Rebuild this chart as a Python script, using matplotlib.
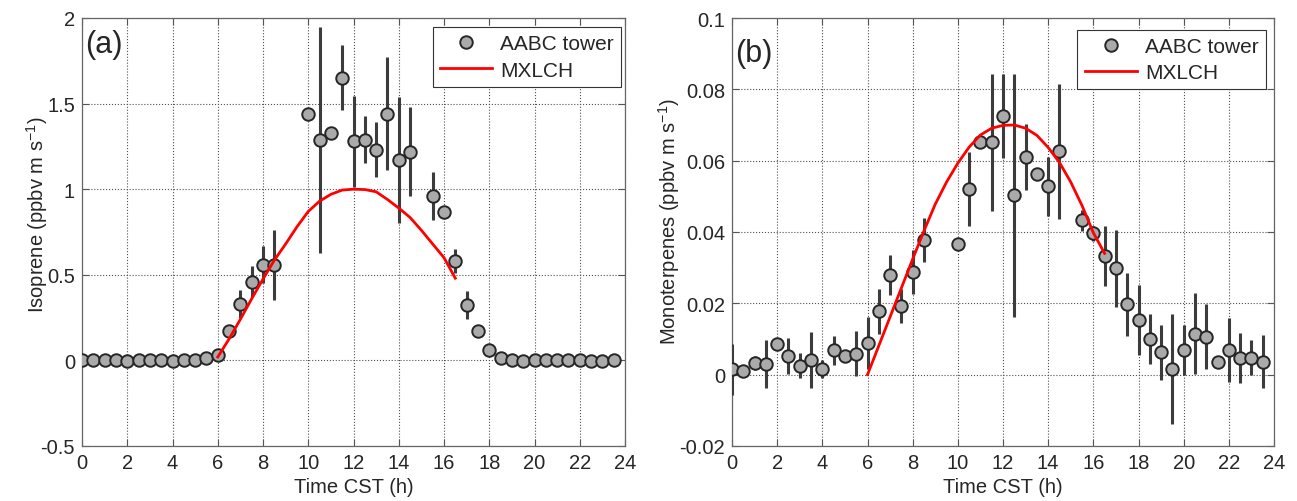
import numpy as np
import matplotlib
matplotlib.use('Agg')
import matplotlib.pyplot as plt
from matplotlib.lines import Line2D
from matplotlib.ticker import FuncFormatter

plt.rcParams['font.family'] = ['Liberation Sans', 'DejaVu Sans']
plt.rcParams['mathtext.fontset'] = 'custom'
plt.rcParams['mathtext.rm'] = 'Liberation Sans'

# half-hourly tower fluxes (NaN = no data)
hours = np.arange(0, 24, 0.5)

isoprene = [0.0, 0.0, 0.0, 0.0, -0.005, 0.0, 0.0, 0.0, -0.005, 0.0, 0.0, 0.015,
            0.03, 0.17, 0.33, 0.46, 0.56, 0.555, np.nan, np.nan, 1.44, 1.29, 1.33, 1.65,
            1.28, 1.29, 1.23, 1.44, 1.17, 1.22, np.nan, 0.96, 0.868, 0.578, 0.324, 0.171,
            0.062, 0.012, 0.0, -0.005, 0.0, 0.0, 0.0, 0.0, 0.0, -0.004, -0.004, 0.0]
isoprene_sd = [0, 0, 0, 0, 0, 0, 0, 0, 0, 0, 0, 0,
               0, 0.02, 0.08, 0.09, 0.11, 0.205, 0, 0, 0, 0.66, 0, 0.19,
               0.267, 0.135, 0.16, 0.33, 0.37, 0.26, 0, 0.14, 0, 0.07, 0.08, 0.02,
               0, 0, 0, 0, 0, 0, 0, 0, 0, 0, 0, 0]

monoterpenes = [0.0015, 0.0011, 0.0033, 0.0031, 0.0087, 0.0053, 0.0025, 0.0042, 0.0016, 0.0068, 0.0053, 0.0059,
                0.0089, 0.0178, 0.028, 0.0192, 0.0287, 0.0377, np.nan, np.nan, 0.0365, 0.0521, 0.0652, 0.0652,
                0.0726, 0.0503, 0.061, 0.0564, 0.0528, 0.0626, np.nan, 0.0433, 0.0396, 0.0334, 0.0298, 0.0197,
                0.0153, 0.0100, 0.0063, 0.0016, 0.0070, 0.0115, 0.0106, 0.0036, 0.0070, 0.0047, 0.0047, 0.0036]
monoterpenes_sd = [0.0071, 0, 0.002, 0.0067, 0, 0.005, 0.0035, 0.0078, 0.0024, 0.004, 0.0015, 0.0063,
                   0.0073, 0.0063, 0.0056, 0.0048, 0.0062, 0.0061, 0, 0, 0, 0.0104, 0, 0.0192,
                   0.0118, 0.034, 0.0093, 0, 0.0083, 0.019, 0, 0.003, 0.002, 0.0084, 0.0107, 0.0088,
                   0.0099, 0.007, 0.0077, 0.0155, 0.007, 0.0113, 0.0091, 0, 0.009, 0.007, 0.0049, 0.0074]

# mixed-layer chemistry model output
model_hours = np.arange(6, 16.75, 0.5)
isoprene_model = [0.02, 0.125, 0.24, 0.36, 0.475, 0.585, 0.68, 0.78, 0.87, 0.93, 0.97,
                  0.995, 1.0, 0.998, 0.985, 0.94, 0.89, 0.835, 0.76, 0.68, 0.60, 0.48]
monoterpenes_model = [0.0, 0.0081, 0.0162, 0.0243, 0.0324, 0.0403, 0.0478, 0.054, 0.0593, 0.0638, 0.0672,
                      0.0691, 0.0699, 0.07, 0.0691, 0.0671, 0.0637, 0.0595, 0.054, 0.0474, 0.0398, 0.034]

TXT = '#262626'
MFC = '#aaaaaa'
MEC = '#262626'
FS = 14.5

fig = plt.figure(figsize=(12.97, 5.02), dpi=100)
W, H = 1297.0, 502.0
ax_a = fig.add_axes([82 / W, 55 / H, 543 / W, 428 / H])
ax_b = fig.add_axes([732 / W, 55 / H, 542 / W, 428 / H])


def panel(ax, y, sd, model, ylim, yticks, ylabel, tag, tag_y, leg_anchor, ylab_xy):
    ax.errorbar(hours, y, yerr=sd, fmt='o', ms=9, mfc=MFC, mec=MEC, mew=1.4,
                ecolor='#3c3c3c', elinewidth=2.2, capsize=0, zorder=3)
    ax.plot(model_hours, model, color='red', lw=2.0, zorder=4)

    ax.set_xlim(0, 24)
    ax.set_ylim(*ylim)
    ax.set_xticks(np.arange(0, 25, 2))
    ax.set_yticks(yticks)
    ax.yaxis.set_major_formatter(FuncFormatter(lambda v, p: '%g' % round(v, 6)))
    ax.grid(True, ls=':', lw=0.8, color='#505050')
    ax.set_axisbelow(True)
    ax.tick_params(direction='in', top=True, right=True, length=5, width=0.8,
                   color='#555555', labelsize=FS, pad=5, labelcolor=TXT)
    for s in ax.spines.values():
        s.set_color('#666666')
        s.set_linewidth(0.9)

    ax.set_xlabel('Time CST (h)', fontsize=FS, color=TXT, va='center')
    ax.xaxis.set_label_coords(0.5, -0.094)
    ax.set_ylabel(ylabel, fontsize=FS, color=TXT, va='center')
    ax.yaxis.set_label_coords(*ylab_xy)

    ax.text(0.006, tag_y, tag, transform=ax.transAxes, fontsize=22,
            va='center', ha='left', color=TXT)

    handles = [Line2D([], [], ls='none', marker='o', ms=9, mfc=MFC, mec=MEC, mew=1.4),
               Line2D([], [], color='red', lw=2.0)]
    leg = ax.legend(handles, ['AABC tower', 'MXLCH'], loc='upper right',
                    bbox_to_anchor=leg_anchor, fancybox=False, framealpha=1,
                    edgecolor='#333333', fontsize=15, handlelength=2.5,
                    handletextpad=0.4, borderpad=0.35, labelspacing=0.35,
                    borderaxespad=0)
    leg.get_frame().set_linewidth(0.8)
    for t in leg.get_texts():
        t.set_color(TXT)


panel(ax_a, isoprene, isoprene_sd, isoprene_model, (-0.5, 2),
      [-0.5, 0, 0.5, 1, 1.5, 2], r'Isoprene (ppbv m s$^{-1}$)',
      '(a)', 0.94, (0.993, 0.979), (-0.083, 0.542))
panel(ax_b, monoterpenes, monoterpenes_sd, monoterpenes_model, (-0.02, 0.1),
      [-0.02, 0, 0.02, 0.04, 0.06, 0.08, 0.1], r'Monoterpenes (ppbv m s$^{-1}$)',
      '(b)', 0.918, (0.985, 0.973), (-0.117, 0.526))

fig.savefig('out.png', dpi=100)
